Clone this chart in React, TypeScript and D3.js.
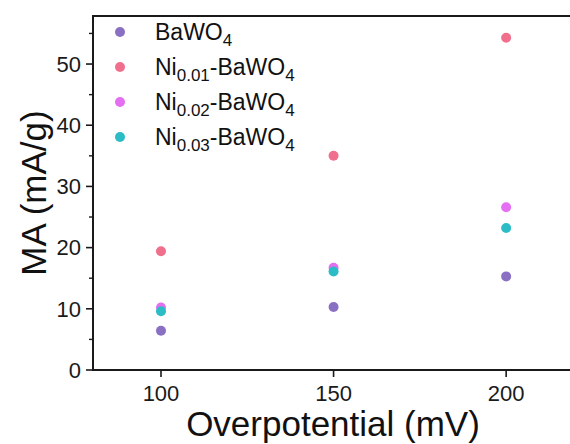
import * as d3 from "d3";

const xValues = [100, 150, 200];
const seriesNames = ["BaWO4", "Ni0.01-BaWO4", "Ni0.02-BaWO4", "Ni0.03-BaWO4"];
const subs = ["", "0.01", "0.02", "0.03"];
const bawo4 = [6.4, 10.3, 15.3];
const ni001 = [19.4, 35.0, 54.3];
const ni002 = [10.2, 16.7, 26.6];
const ni003 = [9.6, 16.1, 23.2];
const colors = ["#8a70c2", "#f06f8c", "#e46ff2", "#2cbcc6"];
const yTicks = [0, 10, 20, 30, 40, 50];

export default function App() {
  const width = 570;
  const height = 444;
  const marginLeft = 93;
  const marginTop = 16;
  const plotBottom = 370;
  const font = "Liberation Sans, Arial, sans-serif";

  const x = d3.scaleLinear().domain([80.3, 218.5]).range([marginLeft, 570]);
  const y = d3.scaleLinear().domain([0, 57.85]).range([plotBottom, marginTop]);

  const series = [bawo4, ni001, ni002, ni003];
  const minorTicks = d3.range(5, 56, 10);

  return (
    <svg
      width={width}
      height={height}
      style={{ position: "absolute", left: 0, top: 0, background: "white" }}
      fontFamily={font}
    >
      {/* frame */}
      <line x1={marginLeft} x2={width} y1={marginTop} y2={marginTop} stroke="#1a1a1a" strokeWidth={2} />
      <line x1={marginLeft} x2={marginLeft} y1={marginTop - 1} y2={plotBottom + 1} stroke="#1a1a1a" strokeWidth={2} />
      <line x1={marginLeft - 1} x2={width} y1={plotBottom} y2={plotBottom} stroke="#1a1a1a" strokeWidth={2} />

      {/* y axis */}
      {yTicks.map((t) => (
        <g key={t}>
          <line x1={marginLeft - 7} x2={marginLeft} y1={y(t)} y2={y(t)} stroke="#1a1a1a" strokeWidth={1.6} />
          <text x={marginLeft - 12} y={y(t)} dy="0.35em" textAnchor="end" fontSize={22} fill="#1a1a1a">
            {t}
          </text>
        </g>
      ))}
      {minorTicks.map((t) => (
        <line key={t} x1={marginLeft - 4} x2={marginLeft} y1={y(t)} y2={y(t)} stroke="#1a1a1a" strokeWidth={1.4} />
      ))}

      {/* x axis */}
      {xValues.map((t) => (
        <g key={t}>
          <line x1={x(t)} x2={x(t)} y1={plotBottom} y2={plotBottom + 7} stroke="#1a1a1a" strokeWidth={1.6} />
          <text x={x(t)} y={plotBottom + 31} textAnchor="middle" fontSize={22} fill="#1a1a1a">
            {t}
          </text>
        </g>
      ))}

      {/* axis titles */}
      <text x={333} y={436} textAnchor="middle" fontSize={35} fill="#111">
        Overpotential (mV)
      </text>
      <text
        transform={`translate(46, ${(marginTop + plotBottom) / 2}) rotate(-90)`}
        textAnchor="middle"
        fontSize={35}
        fill="#111"
      >
        MA (mA/g)
      </text>

      {/* points */}
      {series.map((vals, si) =>
        vals.map((v, i) => (
          <circle key={`${si}-${i}`} cx={x(xValues[i])} cy={y(v)} r={5} fill={colors[si]} />
        ))
      )}

      {/* legend */}
      {seriesNames.map((name, i) => {
        const ly = 32 + i * 35;
        return (
          <g key={name}>
            <circle cx={120} cy={ly} r={5} fill={colors[i]} />
            <text x={155} y={ly} dy="0.35em" fontSize={23} fill="#111">
              {subs[i] ? (
                <>
                  <tspan>Ni</tspan>
                  <tspan fontSize={17} dy={6}>{subs[i]}</tspan>
                  <tspan dy={-6}>-BaWO</tspan>
                  <tspan fontSize={17} dy={6}>4</tspan>
                </>
              ) : (
                <>
                  <tspan>BaWO</tspan>
                  <tspan fontSize={17} dy={6}>4</tspan>
                </>
              )}
            </text>
          </g>
        );
      })}
    </svg>
  );
}
